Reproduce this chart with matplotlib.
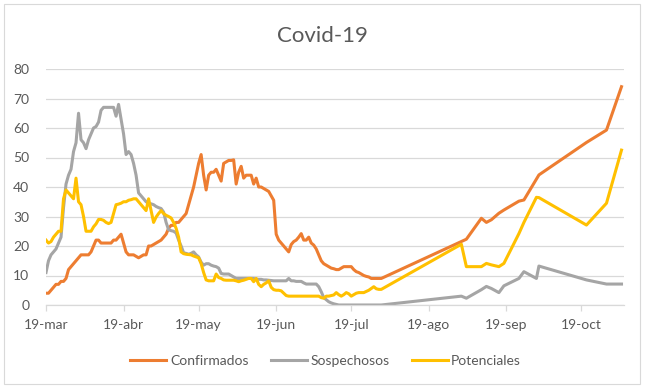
import datetime as dt
import matplotlib
matplotlib.use("Agg")
import matplotlib.pyplot as plt
import matplotlib.dates as mdates
from matplotlib.patches import Rectangle

# day offsets from 19-mar-2020: daily until day 134, then sparse reports
day_offsets = list(range(135)) + [166, 168, 174, 176, 178, 181, 183, 189, 191, 196, 197, 216, 224, 230]

confirmados = [
    4, 4, 5, 6, 7, 7, 8, 8, 9, 12,
    13, 14, 15, 16, 17, 17, 17, 17, 18, 20,
    22, 22, 21, 21, 21, 21, 21, 22, 22, 23,
    24, 21, 18, 17, 17, 17, 16.5, 16, 16.5, 17,
    17, 20, 20, 20.5, 21, 21.5, 22, 23, 24, 26,
    27, 27, 28, 28, 29, 30, 31, 34, 37, 40,
    44, 48, 51, 44, 39, 44, 45, 45, 46, 44,
    42, 48, 48.5, 49, 49, 49.2, 41, 45, 47, 43,
    44, 44, 44, 41, 43, 40, 40, 39.5, 39, 38.5,
    37, 35.5, 24, 22, 21, 20, 19, 18, 20.5, 21.5,
    22, 23, 24.2, 22, 22, 23, 21, 20.3, 19, 17,
    15, 14, 13.5, 13, 12.5, 12.3, 12, 12, 12.5, 13,
    13, 13, 13, 12, 11.3, 11, 10.5, 10, 9.7, 9.5,
    9, 9, 9, 9, 9,
    21.5, 22.3, 29.4, 28, 28.9, 31.1, 32.2, 35.2, 35.6, 42.7, 44.1, 55.1, 59.3, 74,
]

sospechosos = [
    11, 15, 17, 18, 19, 21, 23, 33, 41, 44,
    46, 52, 55, 65, 56, 55, 53, 56, 58, 60,
    60.5, 62, 66, 67, 67, 67, 67, 67, 64, 68,
    63, 58, 51, 52, 51, 48, 44, 38, 37, 36,
    35, 34.5, 34.3, 34, 33.4, 33, 32.7, 31.5, 28, 25.5,
    25.2, 25, 24.4, 22, 20, 17.7, 17.5, 17.2, 17.5, 18,
    17, 16.3, 14.5, 13.5, 14, 14, 13.5, 13.2, 13, 12.5,
    10.7, 10.5, 10.5, 10.5, 10, 9.5, 9, 9, 9, 9,
    9, 9, 9, 9, 8.8, 8.7, 8.7, 8.5, 8.5, 8.4,
    8.3, 8.2, 8.2, 8.2, 8.2, 8.2, 8.2, 9, 8.2, 8.2,
    8, 8, 8, 7.5, 7.1, 7.1, 7.1, 7.1, 7.1, 6.2,
    4.5, 2.5, 1.8, 1.1, 0.7, 0.4, 0.2, 0, 0, 0,
    0, 0, 0, 0, 0, 0, 0, 0, 0, 0,
    0, 0, 0, 0, 0,
    3, 2.3, 5.2, 6.3, 5.6, 4.2, 6.5, 9, 11.3, 9, 13.2, 8.5, 7.1, 7.1,
]

potenciales = [
    22, 21, 21.5, 23, 24, 25, 25, 36, 39, 38,
    37, 36, 43, 35, 34, 30, 25, 25, 25, 26.5,
    27.5, 29, 29, 28.7, 28, 27.6, 28, 31, 34, 34.2,
    34.5, 35, 35, 35.5, 35.7, 36, 36, 35, 34, 33,
    32, 36, 32, 28, 29.8, 31, 32, 31, 30.4, 30,
    29.5, 28, 26, 23, 18, 17.4, 17.2, 17.1, 17, 16.6,
    16.3, 16, 14, 11, 8.5, 8.2, 8.2, 8.2, 10.5, 9.3,
    9, 8.5, 8.4, 8.4, 8.4, 8.4, 8.2, 7.9, 8.2, 8.4,
    8.7, 9, 9, 7.9, 9, 7, 6.2, 7, 7.5, 8.2,
    6, 5.2, 5, 5, 4.8, 4, 3.2, 3, 3, 3,
    3, 3, 3, 3, 3, 3, 3, 3, 3, 3,
    2.5, 2.3, 3, 3, 3.2, 3.4, 4.2, 3.5, 3, 3.5,
    4.2, 3.8, 3, 3.5, 4, 4.2, 4.2, 4.2, 4.6, 5,
    5.6, 6.2, 5.5, 5.3, 5.3,
    20.6, 13, 13, 14.1, 13.6, 13, 14.1, 24.2, 28, 36.5, 36.4, 27.1, 34.5, 52.5,
]

tick_months = [3, 4, 5, 6, 7, 8, 9, 10]
tick_labels = ["19-mar", "19-abr", "19-may", "19-jun", "19-jul", "19-ago", "19-sep", "19-oct"]
y_ticks = [0, 10, 20, 30, 40, 50, 60, 70, 80]

plt.rcParams['font.family'] = ['Lato', 'DejaVu Sans']

start = dt.datetime(2020, 3, 19)
dates = [start + dt.timedelta(days=d) for d in day_offsets]

fig = plt.figure(figsize=(6.45, 3.88), dpi=100)
ax = fig.add_axes([46 / 645, 1 - 305 / 388, (624 - 46) / 645, (305 - 69) / 388])

ax.plot(dates, confirmados, color="#ED7D31", lw=2.2, label="Confirmados", solid_joinstyle="round")
ax.plot(dates, sospechosos, color="#A5A5A5", lw=2.2, label="Sospechosos", solid_joinstyle="round")
ax.plot(dates, potenciales, color="#FFC000", lw=2.2, label="Potenciales", solid_joinstyle="round")

ax.set_ylim(0, 80)
ax.set_yticks(y_ticks)
ax.set_xlim(start, start + dt.timedelta(days=231))
ax.set_xticks([dt.datetime(2020, m, 19) for m in tick_months])
ax.set_xticklabels(tick_labels)

ax.grid(axis="y", color="#D9D9D9", lw=0.9)
ax.set_axisbelow(True)
for s in ["top", "right", "left"]:
    ax.spines[s].set_visible(False)
ax.spines["bottom"].set_color("#D9D9D9")
ax.spines["bottom"].set_linewidth(0.9)
ax.tick_params(axis="y", length=0, pad=12, labelsize=10, labelcolor="#595959")
ax.tick_params(axis="x", length=4, width=0.9, color="#D9D9D9", pad=6, labelsize=10, labelcolor="#595959")

fig.text(0.5, 1 - 36 / 388, "Covid-19", ha="center", va="center", fontsize=16, color="#595959")

fig.legend(loc="center", bbox_to_anchor=(0.505, 1 - 361 / 388), ncol=3, frameon=False,
           fontsize=10, labelcolor="#595959", handlelength=2.6, handletextpad=0.25, columnspacing=1.6)

fig.patches.append(Rectangle((4 / 645, 4 / 388), 636 / 645, 380 / 388, transform=fig.transFigure,
                             fill=False, edgecolor="#D9D9D9", lw=0.8))

fig.savefig("out.png", dpi=100)
